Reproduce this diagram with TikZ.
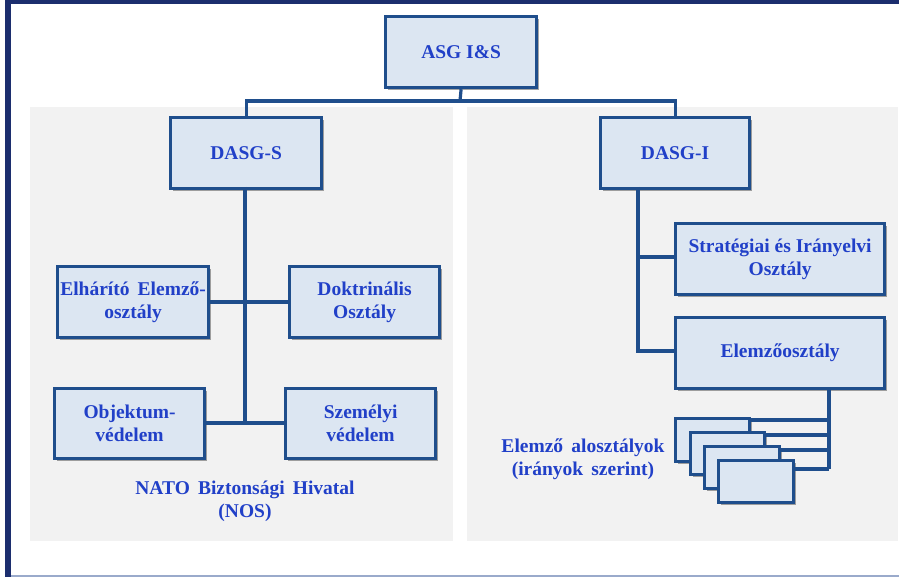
\documentclass[tikz,border=0pt]{standalone}
\usepackage{fontspec}
\setmainfont{Liberation Serif}
\usetikzlibrary{shadows}
\definecolor{navy}{HTML}{1C2E6E}
\definecolor{panel}{HTML}{F2F2F2}
\definecolor{boxfill}{HTML}{DCE6F2}
\definecolor{boxline}{HTML}{1F4E8C}
\definecolor{txt}{HTML}{2140C8}
\definecolor{bottomline}{HTML}{9AAACB}
\tikzset{
  x=1pt, y=-1pt,
  unitbox/.style={draw=boxline, line width=3.2pt, fill=boxfill, inner sep=0pt,
    drop shadow={shadow xshift=2.5pt, shadow yshift=-2.5pt, fill=black, opacity=0.35},
    font=\fontsize{19.5}{23}\selectfont\bfseries, text=txt, align=center},
  conn/.style={draw=boxline, line width=3.2pt},
  caption/.style={font=\fontsize{19.5}{23}\selectfont\bfseries, text=txt, align=center, inner sep=0pt}
}
\newcommand{\ubox}[6]{% name, x1, y1, x2, y2, text
  \node[unitbox, minimum width={#4-#2}, minimum height={#5-#3}, anchor=north west] (#1) at (#2,#3) {#6};}
\begin{document}
\begin{tikzpicture}
\useasboundingbox (0,0) rectangle (899,577);
\fill[white] (0,0) rectangle (899,577);
% frame
\fill[navy] (5,0) rectangle (899,4);
\fill[navy] (5,0) rectangle (11,577);
\fill[bottomline] (11,575) rectangle (899,577);
% panels
\fill[panel] (30,107) rectangle (453,541);
\fill[panel] (467,107) rectangle (898,541);
% boxes
\ubox{asg}{384}{15}{535}{86}{ASG I\&S}
\ubox{dasgs}{169}{116}{320}{187}{DASG-S}
\ubox{dasgi}{599}{116}{748}{187}{DASG-I}
\ubox{elh}{56}{265}{207}{336}{Elhárító\, Elemző-\\osztály}
\ubox{dok}{288}{265}{438}{336}{Doktrinális\\Osztály}
\ubox{obj}{53}{387}{203}{457}{Objektum-\\védelem}
\ubox{sze}{284}{387}{434}{457}{Személyi\\védelem}
\ubox{str}{674}{222}{883}{293}{Stratégiai és Irányelvi\\Osztály}
\ubox{elo}{674}{316}{883}{387}{Elemzőosztály}
% top connectors
\coordinate (bar) at (460,101);
\draw[conn] (asg.south) -- (bar);
\draw[conn] (dasgs.north) |- (bar) -| (dasgi.north);
% DASG-S tree
\coordinate (sbot) at (245,423);
\draw[conn] (245,187) -- (sbot);
\draw[conn] (elh.east |- 0,302) -- (dok.west |- 0,302);
\draw[conn] (obj.east |- sbot) -- (sze.west |- sbot);
% DASG-I tree
\coordinate (ibot) at (638,351);
\draw[conn] (638,187) -- (ibot) -- (elo.west |- ibot);
\draw[conn] (638,257) -- (str.west |- 0,257);
% sub-units
\coordinate (ebot) at (829,469);
\draw[conn] (829,387) -- (ebot);
\ubox{s1}{674}{417}{748}{460}{}
\ubox{s2}{689}{431}{763}{473}{}
\ubox{s3}{703}{445}{778}{487}{}
\ubox{s4}{717}{459}{792}{501}{}
\draw[conn] (s1.east |- 0,420) -- (829,420);
\draw[conn] (s2.east |- 0,435) -- (829,435);
\draw[conn] (s3.east |- 0,450) -- (829,450);
\draw[conn] (s4.east |- ebot) -- (ebot);
% captions
\node[caption] (nos) at (245,501) {NATO\, Biztonsági\, Hivatal\\(NOS)};
\node[caption] (alo) at (583,459) {Elemző\, alosztályok\\(irányok\, szerint)};
\end{tikzpicture}
\end{document}
